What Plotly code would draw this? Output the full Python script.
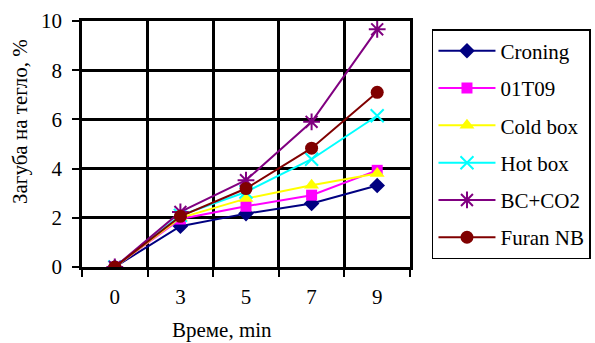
import plotly.graph_objects as go

times = ["0", "3", "5", "7", "9"]
series_names = ["Croning", "01T09", "Cold box", "Hot box", "BC+CO2", "Furan NB"]
croning = [0, 1.66, 2.17, 2.58, 3.31]
t01t09 = [0, 1.95, 2.47, 2.92, 3.93]
cold_box = [0, 2.0, 2.78, 3.32, 3.8]
hot_box = [0, 2.1, 3.05, 4.38, 6.15]
bc_co2 = [0, 2.24, 3.53, 5.9, 9.66]
furan_nb = [0, 2.06, 3.19, 4.83, 7.1]
y_ticks = [0, 2, 4, 6, 8, 10]

values = [croning, t01t09, cold_box, hot_box, bc_co2, furan_nb]
colors = ["#000080", "#FF00FF", "#FFFF00", "#00FFFF", "#800080", "#800000"]
symbols = ["diamond", "square", "triangle-up", "x-thin", "asterisk", "circle"]
sizes = [12, 11, 13, 13, 14, 13]

FONT = "Liberation Serif, Times New Roman, serif"

fig = go.Figure()
for i, (name, vals) in enumerate(zip(series_names, values)):
    fig.add_trace(go.Scatter(
        x=times, y=vals, name=name, mode="lines+markers",
        legendgroup=name,
        line=dict(color=colors[i], width=2),
        marker=dict(symbol=symbols[i], size=sizes[i], color=colors[i],
                    line=dict(color=colors[i], width=2 if symbols[i] in ("x-thin", "asterisk") else 0)),
    ))

fig.update_layout(
    width=595, height=343,
    margin=dict(l=82, r=185, t=21, b=76, autoexpand=False),
    paper_bgcolor="white", plot_bgcolor="white",
    font=dict(family=FONT, size=21, color="black"),
    showlegend=True,
    legend=dict(
        x=1.067, y=0.967, xanchor="left", yanchor="top",
        bordercolor="black", borderwidth=1.5, bgcolor="white",
        font=dict(family=FONT, size=21, color="black"),
        tracegroupgap=7, traceorder="grouped", itemwidth=57,
    ),
    xaxis=dict(
        type="category", range=[-0.5, 4.5],
        tickson="boundaries", ticks="outside", ticklen=7, tickwidth=2, tickcolor="black",
        showgrid=True, gridcolor="black", gridwidth=2.5,
        showline=True, linecolor="black", linewidth=2.5, mirror=True,
        tickfont=dict(family=FONT, size=21), ticklabelstandoff=9,
    ),
    yaxis=dict(
        range=[0, 10], tickvals=y_ticks, ticks="outside", ticklen=7, tickwidth=2, tickcolor="black",
        showgrid=True, gridcolor="black", gridwidth=2.5,
        showline=True, linecolor="black", linewidth=2.5, mirror=True, zeroline=False,
        tickfont=dict(family=FONT, size=21), ticklabelstandoff=6,
    ),
    annotations=[
        dict(text="Време, min", xref="paper", yref="paper", x=(222 - 82) / 328, y=-(330 - 267) / 246,
             xanchor="center", yanchor="middle", showarrow=False, font=dict(family=FONT, size=21)),
        dict(text="Загуба на тегло, %", xref="paper", yref="paper", x=-(82 - 20) / 328, y=(267 - 122) / 246,
             xanchor="center", yanchor="middle", textangle=-90, showarrow=False, font=dict(family=FONT, size=21)),
    ],
)

fig.write_html("out.html")
